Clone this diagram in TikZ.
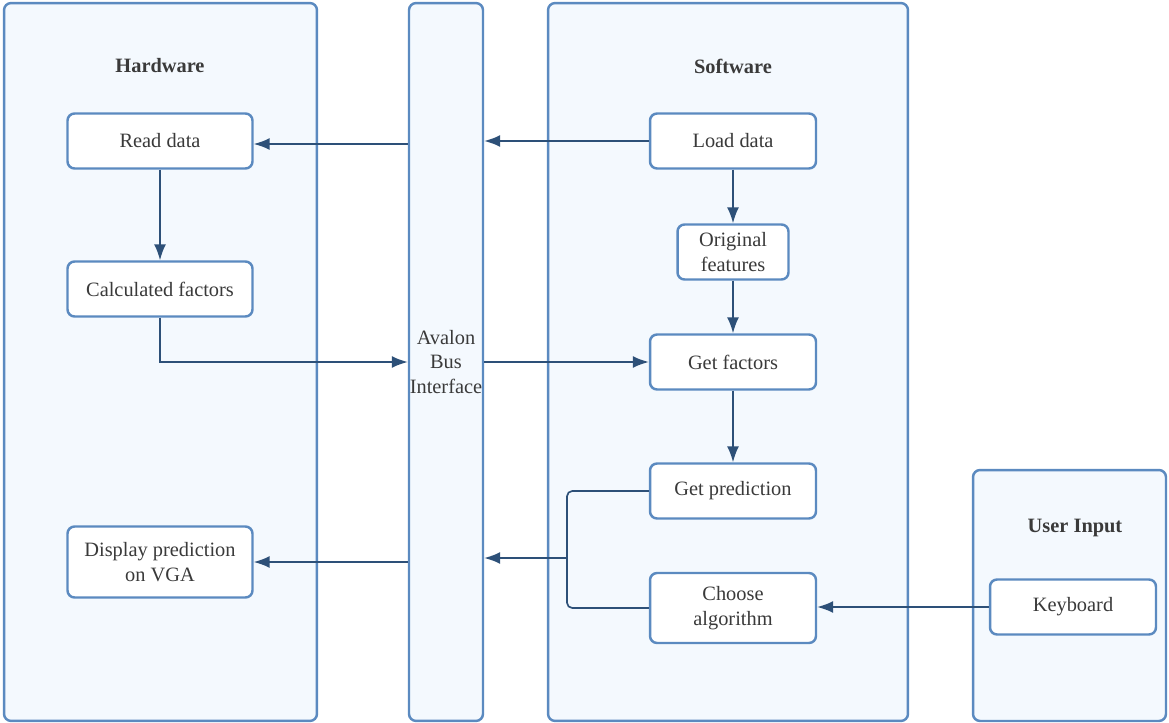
\documentclass[tikz,border=0pt]{standalone}
\usepackage{fontspec}
\setmainfont{Liberation Serif}
\usepackage{tikz}
\usetikzlibrary{arrows.meta,positioning,calc}
\definecolor{frameblue}{HTML}{5B8AC0}
\definecolor{paleblue}{HTML}{F4F9FE}
\definecolor{linkblue}{HTML}{2D5078}
\definecolor{inkgray}{HTML}{3A3A3A}
\tikzset{
  panel/.style={draw=frameblue, line width=1.4pt, rounded corners=4pt, fill=paleblue, inner sep=0pt},
  title/.style={font=\fontsize{11.6}{13}\selectfont\bfseries, text=inkgray},
  stepbox/.style={draw=frameblue, line width=1.4pt, rounded corners=4pt, fill=white, align=center,
    minimum width=3.7cm, minimum height=1.1cm, inner sep=2pt, text=inkgray, font=\fontsize{11.6}{14}\selectfont},
  link/.style={-{Latex[length=3.2mm, width=2.4mm]}, line width=.95pt, draw=linkblue},
}

\begin{document}
\begin{tikzpicture}[x=0.02cm, y=-0.02cm]
    \useasboundingbox (0,0) rectangle (1169,723);
    % containers
    \node[panel, minimum width=6.26cm, minimum height=14.36cm] (hw) at (160.5,362) {};
    \node[panel, minimum width=1.48cm, minimum height=14.36cm, align=center, text=inkgray,
      font=\fontsize{11.6}{14}\selectfont] (bus) at (446,362) {Avalon\\Bus\\Interface};
    \node[panel, minimum width=7.2cm, minimum height=14.36cm] (sw) at (728,362) {};
    \node[panel, minimum width=3.86cm, minimum height=5.02cm] (ui) at (1069.5,595.5) {};

    \node[title] (hwtitle) at (160,66) {Hardware};
    \node[title] (swtitle) at (733,66) {Software};
    \node[title] (uititle) at (1075,528) {User Input};

    % hardware side
    \node[stepbox] (read) at (160,141) {Read data};
    \node[stepbox] (calc) at (160,289) {Calculated factors};
    \node[stepbox, minimum height=1.42cm] (disp) at (160,562) {Display prediction\\on VGA};

    % software side
    \node[stepbox, minimum width=3.32cm] (load) at (733,141) {Load data};
    \node[stepbox, minimum width=2.22cm] (orig) at (733,252) {Original\\features};
    \node[stepbox, minimum width=3.32cm] (getf) at (733,362) {Get factors};
    \node[stepbox, minimum width=3.32cm] (pred) at (733,491) {Get prediction};
    \node[stepbox, minimum width=3.32cm, minimum height=1.4cm] (algo) at (733,608) {Choose\\algorithm};

    \node[stepbox, minimum width=3.32cm] (keyb) at (1073,607) {Keyboard};

    % connectors
    \draw[link] (bus.west |- 0,144) -- (read.east |- 0,144);
    \draw[link] (load.west) -- (bus.east |- load.west);
    \draw[link] (read) -- (calc);
    \draw[link] (calc.south) |- (bus.west |- getf.west);
    \draw[link] (bus.east |- getf.west) -- (getf.west);
    \draw[link] (load) -- (orig);
    \draw[link] (orig) -- (getf);
    \draw[link] (getf) -- (pred);
    \coordinate (join) at (567,558);
    \draw[linkblue, line width=.95pt, rounded corners=3pt] (pred.west) -| (join);
    \draw[linkblue, line width=.95pt, rounded corners=3pt] (algo.west) -| (join);
    \draw[link] (join) -- (bus.east |- join);
    \draw[link] (bus.west |- disp.east) -- (disp.east);
    \draw[link] (keyb.west) -- (algo.east |- keyb.west);
\end{tikzpicture}
\end{document}
